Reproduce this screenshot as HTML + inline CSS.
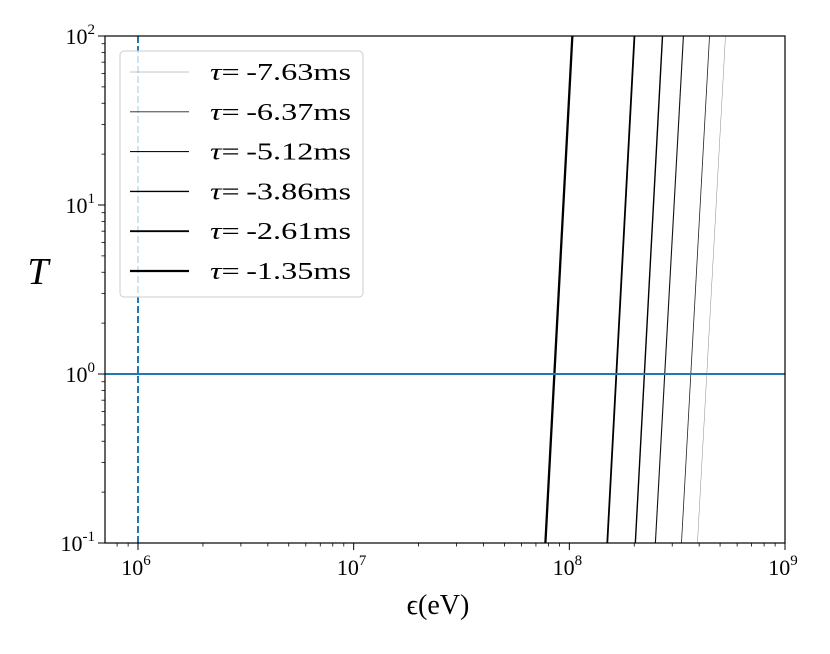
<!DOCTYPE html>
<html><head><meta charset="utf-8"><style>
body{margin:0;background:#fff}
text{font-family:"Liberation Serif",serif;fill:#000}
</style></head><body>
<svg width="830" height="649" xmlns="http://www.w3.org/2000/svg">
<g id="plot"></g>
</svg>
<script>
const labels=["-7.63","-6.37","-5.12","-3.86","-2.61","-1.35"];
const logEpsLow=[8.594,8.520,8.399,8.306,8.176,7.889];   // log10 eps at T=0.1
const logEpsHigh=[8.724,8.650,8.529,8.432,8.302,8.014];  // log10 eps at T=100
const widths=[0.5,0.8,1.1,1.4,1.8,2.3];
const colors=["#888","#222","#111","#000","#000","#000"];
const xTicks=[6,7,8,9];
const yTicks=[-1,0,1,2];
const hLine=0, vLine=6;

const L=105,R=785,T=36,B=543;
const xMin=5.847,xMax=9,yMin=-1,yMax=2;
const X=v=>L+(v-xMin)/(xMax-xMin)*(R-L);
const Y=v=>B-(v-yMin)/(yMax-yMin)*(B-T);
const NS="http://www.w3.org/2000/svg";
const g=document.getElementById('plot');
function el(t,a,p){const e=document.createElementNS(NS,t);for(const k in a)e.setAttribute(k,a[k]);(p||g).appendChild(e);return e;}

const clip=el('clipPath',{id:'c'});el('rect',{x:L,y:T,width:R-L,height:B-T},clip);
const data=el('g',{'clip-path':'url(#c)'});



for(let i=0;i<labels.length;i++){
  const l=el('line',{x1:X(logEpsLow[i]),y1:Y(-1),x2:X(logEpsHigh[i]),y2:Y(2),stroke:colors[i],'stroke-width':widths[i]},data);
  
  
}
const hl=el('line',{x1:L,x2:R,y1:Y(hLine),y2:Y(hLine),stroke:'#1f77b4','stroke-width':2},data);


const vl=el('line',{x1:X(vLine),x2:X(vLine),y1:T,y2:B,stroke:'#1f77b4','stroke-width':2,'stroke-dasharray':'7,3'},data);



for(let d=5;d<9;d++)for(let m=2;m<10;m++){const v=d+Math.log10(m);if(v<xMin||v>xMax)continue;
  el('line',{x1:X(v),x2:X(v),y1:B,y2:B+3.5,stroke:'#000','stroke-width':0.8});}
for(let d=-1;d<2;d++)for(let m=2;m<10;m++){const v=d+Math.log10(m);
  el('line',{x1:L,x2:L-3.5,y1:Y(v),y2:Y(v),stroke:'#000','stroke-width':0.8});}
xTicks.forEach(v=>{el('line',{x1:X(v),x2:X(v),y1:B,y2:B+7,stroke:'#000','stroke-width':1});
  const t=el('text',{x:X(v)-2,y:B+32,'font-size':22,'text-anchor':'middle'});t.innerHTML='10<tspan dy="-10" font-size="15">'+v+'</tspan>';
  
  });
yTicks.forEach(v=>{el('line',{x1:L,x2:L-7,y1:Y(v),y2:Y(v),stroke:'#000','stroke-width':1});
  const t=el('text',{x:L-10,y:Y(v)+8,'font-size':22,'text-anchor':'end'});t.innerHTML='10<tspan dy="-10" font-size="15">'+v+'</tspan>';
  
  });
const fr=el('rect',{x:L,y:T,width:R-L,height:B-T,fill:'none',stroke:'#000','stroke-width':1.2});



const xt=el('text',{x:438,y:614,'font-size':28,'text-anchor':'middle'});xt.textContent='ϵ(eV)';


const yt=el('text',{x:38,y:284,'font-size':38,'text-anchor':'middle','font-style':'italic'});yt.textContent='T';



const lg=el('g',{});


el('rect',{x:120,y:51,width:243,height:246,rx:4,fill:'rgba(255,255,255,0.8)',stroke:'#ccc','stroke-width':1},lg);
for(let i=0;i<labels.length;i++){const y=72+i*39.8;
  el('line',{x1:130,x2:189,y1:y,y2:y,stroke:colors[i],'stroke-width':widths[i]},lg);
  const t=el('text',{x:210,y:y+8,'font-size':24,'textLength':141,'lengthAdjust':'spacingAndGlyphs'},lg);t.innerHTML='<tspan font-style="italic">τ</tspan>=\u2009'+labels[i]+'ms';
  
  }
</script>
</body></html>
